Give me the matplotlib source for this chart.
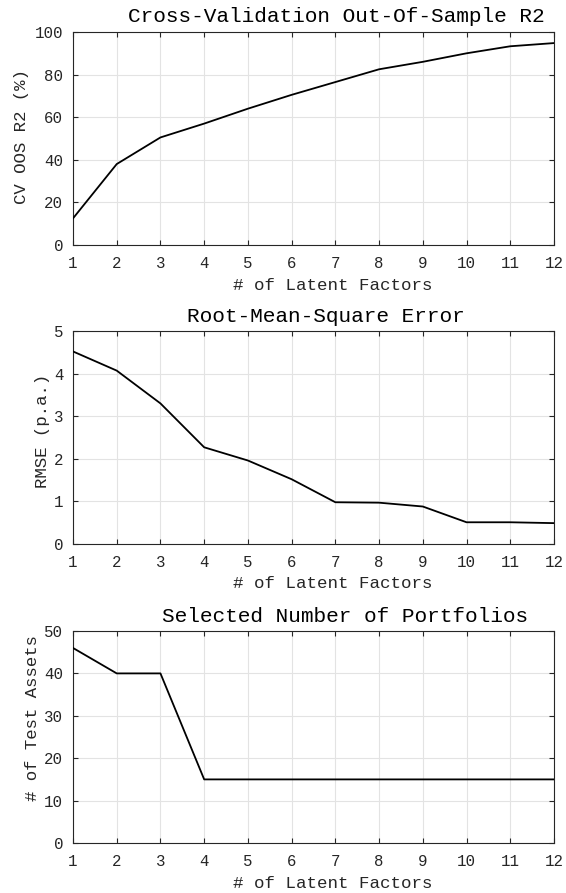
"""Latent factor model selection: CV R2, RMSE and number of test assets."""

import matplotlib

matplotlib.use("Agg")
import matplotlib.pyplot as plt

# data
n_factors = [1, 2, 3, 4, 5, 6, 7, 8, 9, 10, 11, 12]
cv_oos_r2 = [12.5, 38.0, 50.5, 57.0, 64.0, 70.5, 76.5, 82.5, 86.0, 90.0, 93.3, 94.8]
rmse = [4.52, 4.07, 3.30, 2.27, 1.96, 1.52, 0.98, 0.97, 0.88, 0.51, 0.51, 0.49]
n_test_assets = [46, 40, 40, 15, 15, 15, 15, 15, 15, 15, 15, 15]

titles = ["Cross-Validation Out-Of-Sample R2", "Root-Mean-Square Error",
          "Selected Number of Portfolios"]
ylabels = ["CV OOS R2 (%)", "RMSE (p.a.)", "# of Test Assets"]
xlabel = "# of Latent Factors"
yticks = [range(0, 101, 20), range(0, 6, 1), range(0, 51, 10)]

W, H = 566, 893
plt.rcParams["font.family"] = ["Liberation Mono", "DejaVu Sans Mono"]

fig = plt.figure(figsize=(W / 100, H / 100), dpi=100)


def fx(x):
    return x / W


def fy(y):
    return 1 - y / H


# axes boxes in pixels (top, bottom); shared left/right
left, right = 73, 554
boxes = [(32, 245), (331, 544), (631, 843)]
title_pos = [(128.5, 17), (186.7, 317), (162, 616)]
ylabel_pos = [(21.8, 137), (42.8, 431), (32.6, 718)]
xlabel_y = [285, 584, 883]

series = [cv_oos_r2, rmse, n_test_assets]
ink = "#262626"

for i, y in enumerate(series):
    top, bot = boxes[i]
    ax = fig.add_axes([fx(left), fy(bot), (right - left) / W, (bot - top) / H])
    ax.plot(n_factors, y, color="black", lw=1.3, zorder=3)
    ax.set_xlim(1, 12)
    ax.set_xticks(n_factors)
    yt = list(yticks[i])
    ax.set_ylim(yt[0], yt[-1])
    ax.set_yticks(yt)
    ax.grid(True, color="#e3e3e3", lw=0.8)
    ax.set_axisbelow(True)
    for s in ax.spines.values():
        s.set_color(ink)
        s.set_linewidth(0.8)
    ax.tick_params(direction="in", length=3.6, width=0.8, color=ink,
                   top=True, right=True, labelsize=11.3, labelcolor=ink)
    ax.tick_params(axis="x", pad=8)
    ax.tick_params(axis="y", pad=7)

    tx, ty = title_pos[i]
    fig.text(fx(tx), fy(ty), titles[i], ha="left", va="center",
             fontsize=15.2, color="black")
    lx, ly = ylabel_pos[i]
    fig.text(fx(lx), fy(ly), ylabels[i], ha="center", va="center",
             rotation=90, fontsize=12.5, color=ink)
    fig.text(fx(233), fy(xlabel_y[i]), xlabel, ha="left", va="center",
             fontsize=12.6, color=ink)

fig.savefig("out.png", dpi=100)
plt.close(fig)
